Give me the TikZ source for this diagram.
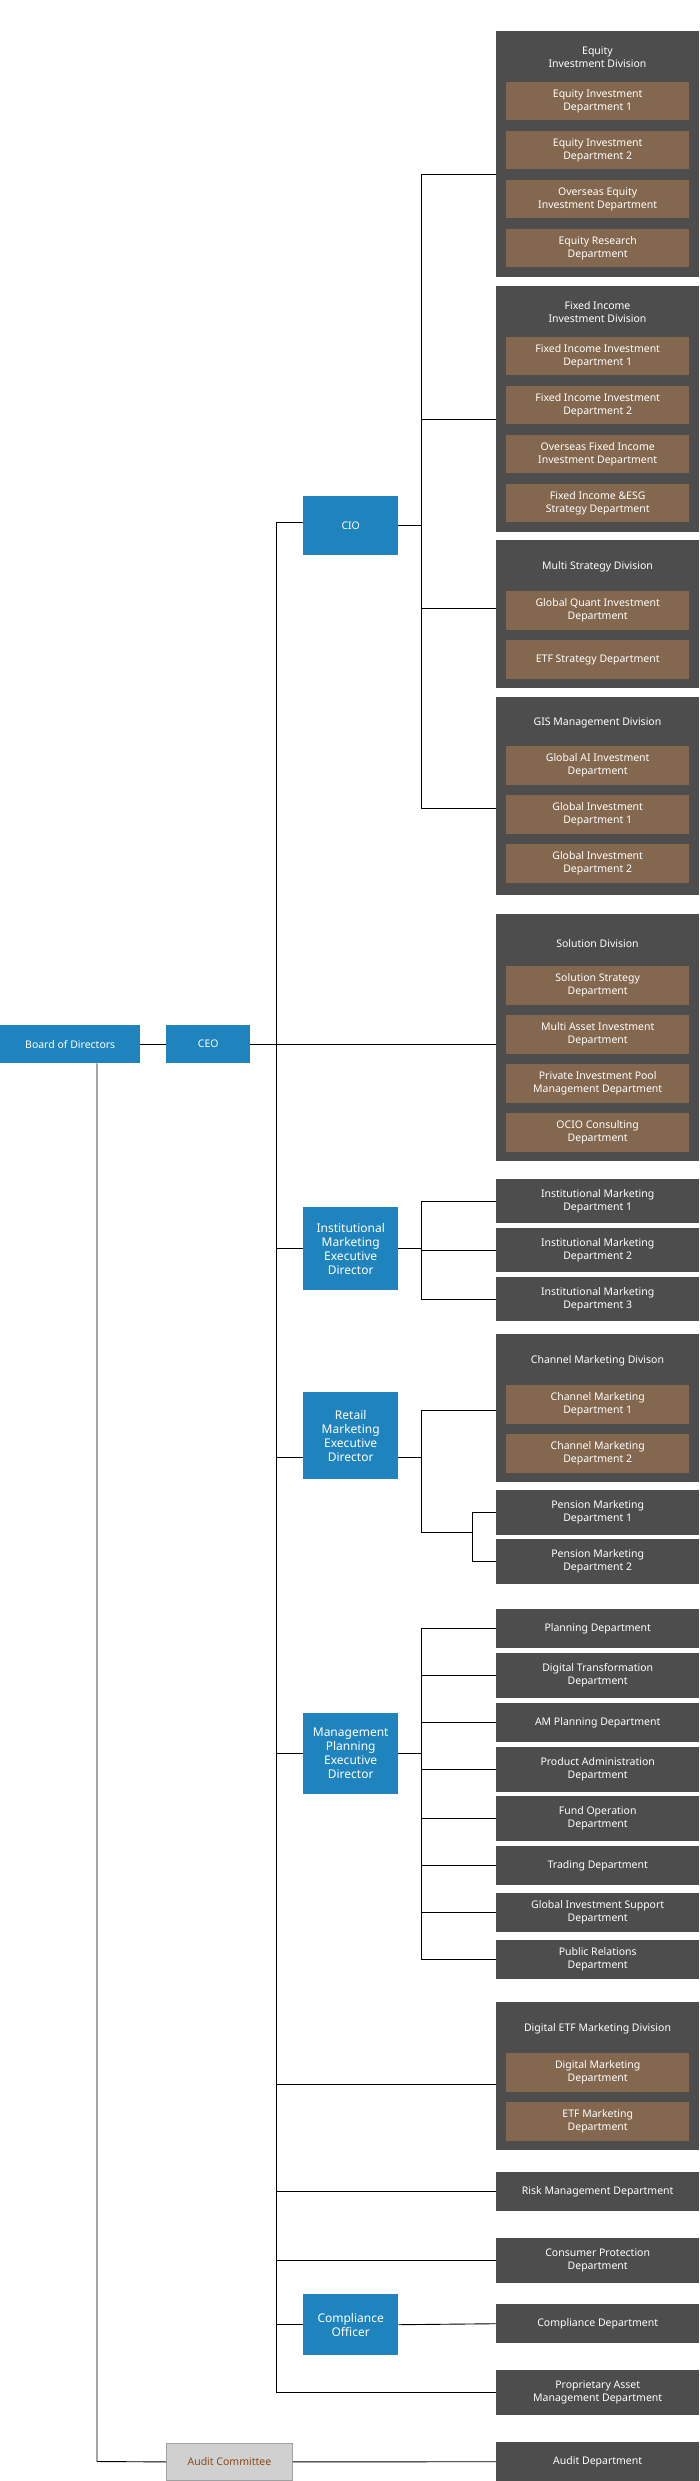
\documentclass[tikz,border=0pt]{standalone}
\usepackage{fontspec}
\setmainfont{Noto Sans}
\definecolor{execblue}{RGB}{31,131,190}
\definecolor{darkbox}{RGB}{77,77,77}
\definecolor{deptbrown}{RGB}{131,103,78}
\definecolor{auditgray}{RGB}{208,208,208}
\definecolor{auditline}{RGB}{160,160,160}
\definecolor{audittext}{RGB}{139,74,26}
\newcommand{\orgfont}{\fontsize{10.5}{13}\selectfont}
\tikzset{
  dark/.style={fill=darkbox, text=white, inner sep=0pt, minimum width=203, anchor=north west, align=center, font=\orgfont},
  brown/.style={fill=deptbrown, text=white, inner sep=0pt, minimum width=183, anchor=north west, align=center, font=\orgfont},
  title/.style={text=white, align=center, font=\orgfont},
  exec/.style={fill=execblue, text=white, inner sep=0pt, anchor=north west, align=center, font=\fontsize{12}{14}\selectfont},
  link/.style={line width=0.9pt}
}
\begin{document}
\begin{tikzpicture}[x=1pt, y=-1pt]
  \useasboundingbox (0,0) rectangle (699,2481);

  % top level
  \node[exec, minimum width=140, minimum height=38, font=\orgfont] (board) at (0,1025) {Board of Directors};
  \node[exec, minimum width=84, minimum height=38, font=\orgfont] (ceo) at (166,1025) {CEO};
  \node[exec, minimum width=95, minimum height=59, font=\orgfont] (cio) at (303,496) {CIO};
  \node[exec, minimum width=95, minimum height=83] (inst) at (303,1207) {Institutional\\Marketing\\Executive\\Director};
  \node[exec, minimum width=95, minimum height=87] (retail) at (303,1392) {Retail\\Marketing\\Executive\\Director};
  \node[exec, minimum width=95, minimum height=81] (mgmt) at (303,1713) {Management\\Planning\\Executive\\Director};
  \node[exec, minimum width=95, minimum height=61] (compl) at (303,2294) {Compliance\\Officer};
  \node[fill=auditgray, draw=auditline, line width=0.8pt, text=audittext, inner sep=0pt,
        minimum width=126, minimum height=37, anchor=north west, font=\orgfont] (auditc) at (166,2443) {Audit Committee};

  % CIO divisions
  \node[dark, minimum height=246] (eqdiv) at (496,31) {};
  \node[title] at (597.5,57) {Equity\\Investment Division};
  \node[brown, minimum height=38] (eq1) at (506,82) {Equity Investment\\Department 1};
  \node[brown, minimum height=38] (eq2) at (506,131) {Equity Investment\\Department 2};
  \node[brown, minimum height=38] (eq3) at (506,180) {Overseas Equity\\Investment Department};
  \node[brown, minimum height=38] (eq4) at (506,229) {Equity Research\\Department};

  \node[dark, minimum height=246] (fidiv) at (496,286) {};
  \node[title] at (597.5,312) {Fixed Income\\Investment Division};
  \node[brown, minimum height=38] (fi1) at (506,337) {Fixed Income Investment\\Department 1};
  \node[brown, minimum height=38] (fi2) at (506,386) {Fixed Income Investment\\Department 2};
  \node[brown, minimum height=38] (fi3) at (506,435) {Overseas Fixed Income\\Investment Department};
  \node[brown, minimum height=38] (fi4) at (506,484) {Fixed Income \&ESG\\Strategy Department};

  \node[dark, minimum height=148] (msdiv) at (496,540) {};
  \node[title] at (597.5,567) {Multi Strategy Division};
  \node[brown, minimum height=39] (ms1) at (506,591) {Global Quant Investment\\Department};
  \node[brown, minimum height=39] (ms2) at (506,640) {ETF Strategy Department};

  \node[dark, minimum height=198] (gisdiv) at (496,697) {};
  \node[title] at (597.5,723) {GIS Management Division};
  \node[brown, minimum height=39] (gis1) at (506,746) {Global AI Investment\\Department};
  \node[brown, minimum height=39] (gis2) at (506,795) {Global Investment\\Department 1};
  \node[brown, minimum height=39] (gis3) at (506,844) {Global Investment\\Department 2};

  % solution division
  \node[dark, minimum height=247] (soldiv) at (496,914) {};
  \node[title] at (597.5,944) {Solution Division};
  \node[brown, minimum height=39] (sol1) at (506,966) {Solution Strategy\\Department};
  \node[brown, minimum height=39] (sol2) at (506,1015) {Multi Asset Investment\\Department};
  \node[brown, minimum height=39] (sol3) at (506,1064) {Private Investment Pool\\Management Department};
  \node[brown, minimum height=39] (sol4) at (506,1113) {OCIO Consulting\\Department};

  % marketing
  \node[dark, minimum height=44] (im1) at (496,1179) {Institutional Marketing\\Department 1};
  \node[dark, minimum height=44] (im2) at (496,1228) {Institutional Marketing\\Department 2};
  \node[dark, minimum height=44] (im3) at (496,1277) {Institutional Marketing\\Department 3};

  \node[dark, minimum height=148] (chdiv) at (496,1334) {};
  \node[title] at (597.5,1361) {Channel Marketing Divison};
  \node[brown, minimum height=39] (ch1) at (506,1385) {Channel Marketing\\Department 1};
  \node[brown, minimum height=39] (ch2) at (506,1434) {Channel Marketing\\Department 2};
  \node[dark, minimum height=45] (pm1) at (496,1490) {Pension Marketing\\Department 1};
  \node[dark, minimum height=45] (pm2) at (496,1539) {Pension Marketing\\Department 2};

  % management planning
  \node[dark, minimum height=39] (mp1) at (496,1609) {Planning Department};
  \node[dark, minimum height=45] (mp2) at (496,1653) {Digital Transformation\\Department};
  \node[dark, minimum height=39] (mp3) at (496,1703) {AM Planning Department};
  \node[dark, minimum height=45] (mp4) at (496,1747) {Product Administration\\Department};
  \node[dark, minimum height=45] (mp5) at (496,1796) {Fund Operation\\Department};
  \node[dark, minimum height=39] (mp6) at (496,1846) {Trading Department};
  \node[dark, minimum height=39] (mp7) at (496,1893) {Global Investment Support\\Department};
  \node[dark, minimum height=39] (mp8) at (496,1940) {Public Relations\\Department};

  \node[dark, minimum height=148] (etfdiv) at (496,2002) {};
  \node[title] at (597.5,2029) {Digital ETF Marketing Division};
  \node[brown, minimum height=39] (etf1) at (506,2053) {Digital Marketing\\Department};
  \node[brown, minimum height=39] (etf2) at (506,2102) {ETF Marketing\\Department};

  \node[dark, minimum height=39] (risk) at (496,2172) {Risk Management Department};
  \node[dark, minimum height=45] (cons) at (496,2238) {Consumer Protection\\Department};
  \node[dark, minimum height=39] (compd) at (496,2304) {Compliance Department};
  \node[dark, minimum height=45] (prop) at (496,2370) {Proprietary Asset\\Management Department};
  \node[dark, minimum height=39] (auditd) at (496,2442) {Audit Department};

  % connectors
  \coordinate (ceobus) at (276,0);
  \coordinate (ciobus) at (421,0);
  \coordinate (pmbus) at (472,0);

  \draw[link] (board.east) -- (ceo.west);
  \draw[link] (ceo.east) -- (soldiv.west |- ceo.east);
  \draw[link] (ceobus |- 0,522) -- (ceobus |- prop.west);
  \draw[link] (ceobus |- 0,522) -- (cio.west |- 0,522);
  \draw[link] (ceobus |- inst.west) -- (inst.west);
  \draw[link] (ceobus |- 0,1457) -- (retail.west |- 0,1457);
  \draw[link] (ceobus |- mgmt.west) -- (mgmt.west);
  \draw[link] (ceobus |- 0,2084) -- (etfdiv.west |- 0,2084);
  \draw[link] (ceobus |- risk.west) -- (risk.west);
  \draw[link] (ceobus |- cons.west) -- (cons.west);
  \draw[link] (ceobus |- compl.west) -- (compl.west);
  \draw[link] (ceobus |- prop.west) -- (prop.west);

  \draw[link] (cio.east) -- (ciobus |- cio.east);
  \draw[link] (ciobus |- 0,174) -- (ciobus |- 0,808);
  \draw[link] (ciobus |- 0,174) -- (eqdiv.west |- 0,174);
  \draw[link] (ciobus |- 0,419) -- (fidiv.west |- 0,419);
  \draw[link] (ciobus |- 0,608) -- (msdiv.west |- 0,608);
  \draw[link] (ciobus |- 0,808) -- (gisdiv.west |- 0,808);

  \draw[link] (inst.east) -- (ciobus |- inst.east);
  \draw[link] (ciobus |- im1.west) -- (ciobus |- im3.west);
  \draw[link] (ciobus |- im1.west) -- (im1.west);
  \draw[link] (ciobus |- im2.west) -- (im2.west);
  \draw[link] (ciobus |- im3.west) -- (im3.west);

  \draw[link] (retail.east |- 0,1457) -- (ciobus |- 0,1457);
  \draw[link] (ciobus |- 0,1410) -- (ciobus |- 0,1532);
  \draw[link] (ciobus |- 0,1410) -- (chdiv.west |- 0,1410);
  \draw[link] (ciobus |- 0,1532) -- (pmbus |- 0,1532);
  \draw[link] (pmbus |- pm1.west) -- (pmbus |- pm2.west);
  \draw[link] (pmbus |- pm1.west) -- (pm1.west);
  \draw[link] (pmbus |- pm2.west) -- (pm2.west);

  \draw[link] (mgmt.east) -- (ciobus |- mgmt.east);
  \draw[link] (ciobus |- mp1.west) -- (ciobus |- mp8.west);
  \foreach \d in {mp1,mp2,mp3,mp4,mp5,mp6,mp7,mp8}
    \draw[link] (ciobus |- \d.west) -- (\d.west);

  \draw[link] (compl.east) -- (compd.west);
  \draw[link] (board.south -| 0,97) ++(97,0) -- (97,2461.5) -- (auditc.west);
  \draw[link] (auditc.east) -- (auditd.west);
\end{tikzpicture}
\end{document}
